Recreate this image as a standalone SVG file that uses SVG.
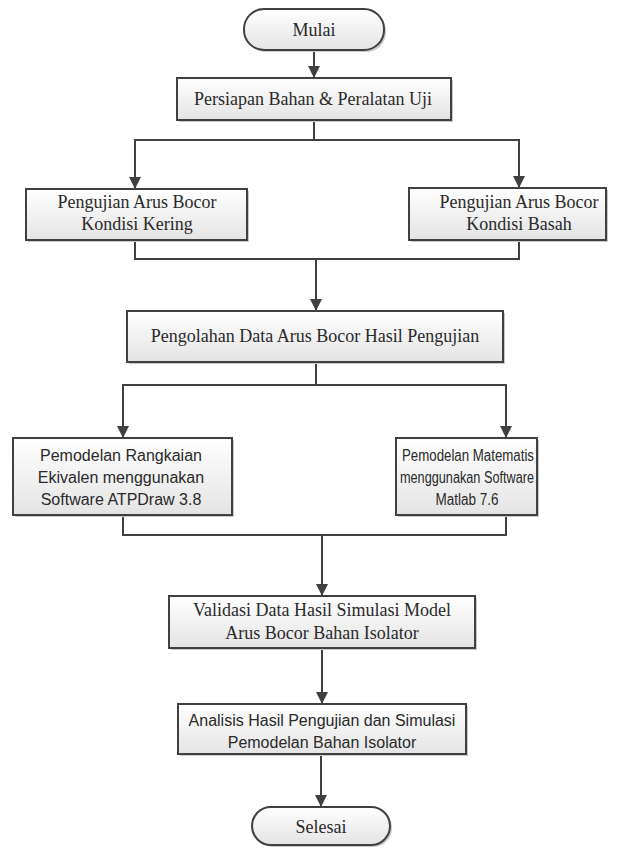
<svg xmlns="http://www.w3.org/2000/svg" width="628" height="848" viewBox="0 0 628 848">
<defs>
<linearGradient id="g" x1="0" y1="0" x2="0" y2="1">
<stop offset="0" stop-color="#ffffff"/>
<stop offset="1" stop-color="#e4e4e4"/>
</linearGradient>
<marker id="ah" viewBox="0 0 10 10" refX="10" refY="5" markerWidth="6" markerHeight="6" markerUnits="strokeWidth" orient="auto">
<path d="M0,0 L10,5 L0,10 z" fill="#404040"/>
</marker>
</defs>
<style>
.box{fill:url(#g);stroke:#404040;stroke-width:2}
.sh{fill:#c8c8c8;stroke:none}
.serif{font-family:"Liberation Serif","Times New Roman",serif;font-size:18px;fill:#2a2a2a;text-anchor:middle}
.sans{font-family:"Liberation Sans",Arial,sans-serif;font-size:16px;fill:#2a2a2a;text-anchor:middle}
.ln{fill:none;stroke:#404040;stroke-width:2}
.ar{fill:none;stroke:#404040;stroke-width:2;marker-end:url(#ah)}
</style>
<rect width="628" height="848" fill="#ffffff"/>
<g id="connectors">
<line class="ar" x1="314" y1="50" x2="314" y2="78"/>
<polyline class="ln" points="314,120 314,140"/>
<polyline class="ar" points="314,140 135,140 135,189"/>
<polyline class="ar" points="314,140 519,140 519,188"/>
<polyline class="ln" points="135,240 135,259 519,259 519,240"/>
<line class="ar" x1="316" y1="259" x2="316" y2="311"/>
<polyline class="ln" points="316,362 316,385"/>
<polyline class="ar" points="316,385 123,385 123,438"/>
<polyline class="ar" points="316,385 506,385 506,438"/>
<polyline class="ln" points="123,515 123,535 506,535 506,515"/>
<line class="ar" x1="322" y1="535" x2="322" y2="596"/>
<line class="ar" x1="322" y1="648" x2="322" y2="704"/>
<line class="ar" x1="321" y1="754" x2="321" y2="807"/>
</g>
<g id="mulai">
<rect class="sh" x="246" y="11" width="140" height="41" rx="20"/>
<rect class="box" x="244" y="9" width="140" height="41" rx="20"/>
<text class="serif" x="314" y="36">Mulai</text>
</g>
<g id="persiapan">
<rect class="sh" x="179" y="80" width="274" height="42"/>
<rect class="box" x="177" y="78" width="274" height="42"/>
<text class="serif" x="313" y="105">Persiapan Bahan &amp; Peralatan Uji</text>
</g>
<g id="kering">
<rect class="sh" x="28" y="191" width="221" height="51"/>
<rect class="box" x="26" y="189" width="221" height="51"/>
<text class="serif" x="137" y="208">Pengujian Arus Bocor</text>
<text class="serif" x="137" y="230">Kondisi Kering</text>
</g>
<g id="basah">
<rect class="sh" x="411" y="190" width="197" height="52"/>
<rect class="box" x="409" y="188" width="197" height="52"/>
<text class="serif" x="519" y="208">Pengujian Arus Bocor</text>
<text class="serif" x="519" y="230">Kondisi Basah</text>
</g>
<g id="pengolahan">
<rect class="sh" x="129" y="313" width="376" height="51"/>
<rect class="box" x="127" y="311" width="376" height="51"/>
<text class="serif" x="315" y="342">Pengolahan Data Arus Bocor Hasil Pengujian</text>
</g>
<g id="pemodelan-rangkaian">
<rect class="sh" x="15" y="440" width="219" height="77"/>
<rect class="box" x="13" y="438" width="219" height="77"/>
<text class="sans" x="121" y="461">Pemodelan Rangkaian</text>
<text class="sans" x="121" y="483">Ekivalen menggunakan</text>
<text class="sans" x="121" y="505">Software ATPDraw 3.8</text>
</g>
<g id="pemodelan-matematis">
<rect class="sh" x="398" y="440" width="141" height="77"/>
<rect class="box" x="396" y="438" width="141" height="77"/>
<text class="sans" x="468" y="461" textLength="132" lengthAdjust="spacingAndGlyphs">Pemodelan Matematis</text>
<text class="sans" x="467" y="483" textLength="134" lengthAdjust="spacingAndGlyphs">menggunakan Software</text>
<text class="sans" x="467" y="505" textLength="63" lengthAdjust="spacingAndGlyphs">Matlab 7.6</text>
</g>
<g id="validasi">
<rect class="sh" x="171" y="598" width="306" height="52"/>
<rect class="box" x="169" y="596" width="306" height="52"/>
<text class="serif" x="322" y="616">Validasi Data Hasil Simulasi Model</text>
<text class="serif" x="322" y="639">Arus Bocor Bahan Isolator</text>
</g>
<g id="analisis">
<rect class="sh" x="180" y="706" width="288" height="50"/>
<rect class="box" x="178" y="704" width="288" height="50"/>
<text class="sans" x="322" y="726">Analisis Hasil Pengujian dan Simulasi</text>
<text class="sans" x="322" y="748">Pemodelan Bahan Isolator</text>
</g>
<g id="selesai">
<rect class="sh" x="254" y="809" width="138" height="38" rx="19"/>
<rect class="box" x="252" y="807" width="138" height="38" rx="19"/>
<text class="serif" x="321" y="833">Selesai</text>
</g>
</svg>
